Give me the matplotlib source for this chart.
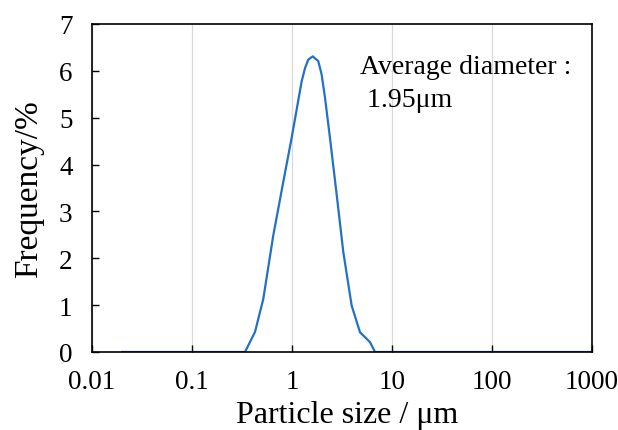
import matplotlib
matplotlib.use("Agg")
import matplotlib.pyplot as plt

plt.rcParams['font.family'] = ['Liberation Serif', 'DejaVu Serif']

# Particle size (µm) and frequency (%)
size_um = [0.02, 0.339, 0.427, 0.516, 0.65, 0.818, 0.99, 1.25, 1.35, 1.456, 1.61,
           1.83, 1.98, 2.14, 2.40, 2.80, 3.26, 3.95, 4.79, 6.03, 6.76, 1000]
freq_pct = [0.0, 0.0, 0.43, 1.13, 2.49, 3.63, 4.56, 5.78, 6.06, 6.24, 6.31,
            6.21, 5.92, 5.42, 4.56, 3.35, 2.13, 0.99, 0.42, 0.21, 0.0, 0.0]

x_ticks = [0.01, 0.1, 1, 10, 100, 1000]
x_tick_labels = ["0.01", "0.1", "1", "10", "100", "1000"]
y_ticks = [0, 1, 2, 3, 4, 5, 6, 7]

fig = plt.figure(figsize=(6.18, 4.31), dpi=100)
ax = fig.add_axes([92/618, 1-353/431, 500/618, 328/431])

ax.plot(size_um, freq_pct, color='#2271C7', lw=1.6, solid_joinstyle='round')

ax.set_xscale('log')
ax.set_xlim(0.01, 1000)
ax.set_ylim(0, 7)
ax.set_xticks(x_ticks)
ax.set_xticklabels(x_tick_labels)
ax.minorticks_off()
ax.set_yticks(y_ticks)

ax.grid(axis='x', color='#D9D9D9', lw=0.9)
ax.set_axisbelow(True)

for s in ax.spines.values():
    s.set_linewidth(1.2)
    s.set_color('black')

ax.tick_params(axis='both', direction='in', length=5, width=1.0, labelsize=19.5)
ax.tick_params(axis='x', pad=12)
ax.tick_params(axis='y', pad=14)

ax.set_xlabel("Particle size / μm", fontsize=23)
ax.set_ylabel("Frequency/%", fontsize=24)
ax.xaxis.set_label_coords(0.51, -0.145)
ax.yaxis.set_label_coords(-0.095, 0.5)

ax.text(0.536, 0.91, "Average diameter :\n 1.95μm", transform=ax.transAxes,
        fontsize=20, va='top', ha='left', linespacing=1.45)

fig.savefig("out.png", dpi=100)
